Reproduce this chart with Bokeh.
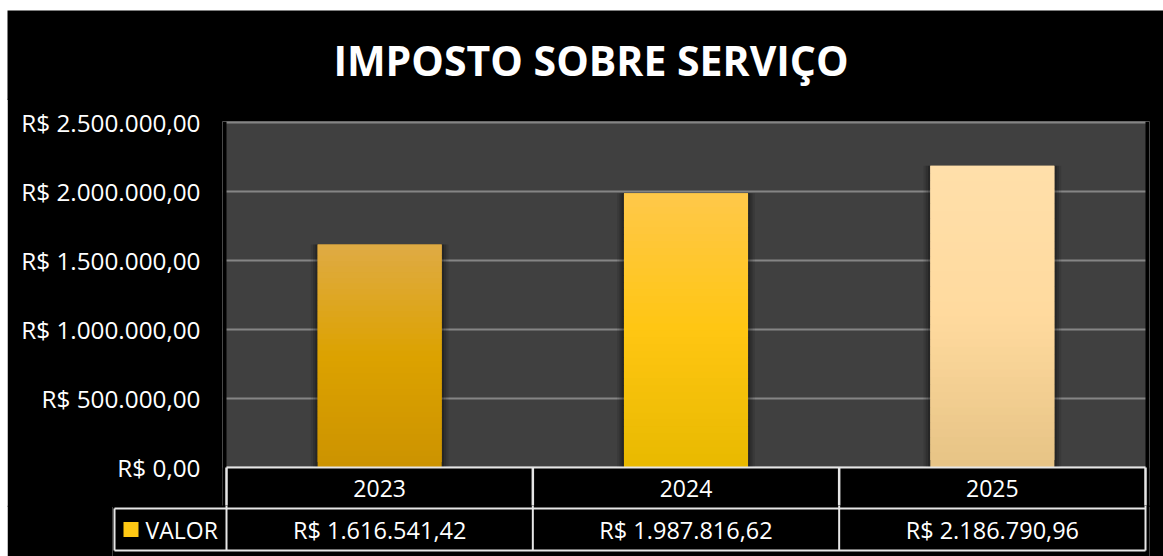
from bokeh.plotting import figure
from bokeh.models import Range1d, FixedTicker, ColumnDataSource
from bokeh.embed import file_html
from bokeh.resources import INLINE
from bokeh.core.properties import value

# ---------------- data ----------------
TITLE = "IMPOSTO SOBRE SERVIÇO"
YEARS = ["2023", "2024", "2025"]
VALUES = [1616541.42, 1987816.62, 2186790.96]
VALUE_LABELS = ["R$ 1.616.541,42", "R$ 1.987.816,62", "R$ 2.186.790,96"]
SERIES = "VALOR"
Y_TICKS = [0, 500000, 1000000, 1500000, 2000000, 2500000]
Y_TICK_LABELS = ["R$ 0,00", "R$ 500.000,00", "R$ 1.000.000,00",
                 "R$ 1.500.000,00", "R$ 2.000.000,00", "R$ 2.500.000,00"]

# ---------------- style ----------------
BAR_STOPS = [("#CC9300", "#DCA200", "#DFAB45"),   # bottom, middle, top
             ("#E8B900", "#FFC612", "#FFC84A"),
             ("#E6C385", "#FFDA9E", "#FFDFAA")]
LEGEND_COLOR = "#FFC914"
FONT = "Open Sans"
BAR_W = 0.405
N_SLICES = 40
LINE_C = "#E6E6E6"
GRID_C = "#858585"

# layout, in reference-picture pixels
OX, OY = 7, 10                 # top-left of the black chart box
RIGHT, BOTTOM = 1163, 556
PLOT_L, PLOT_R, PLOT_T, PLOT_B = 226, 1145, 122, 467
FRAME_L, FRAME_R, FRAME_T = 222, 1149, 121
TITLE_B = 100                  # bottom of the title strip
SPLIT = 507                    # bottom of chart figure / top of value figure
OVERLAP = 2                    # stacked figures overlap a little (no seams)
ROW1_B, TABLE_B = 508, 550
LEG_L, LEG_FRAME_L = 114, 112
KEY_CX, KEY_SIZE, KEY_TEXT_X = 130.5, 15, 145
TITLE_CX, TITLE_CY = 590.5, 59

W = RIGHT - OX
n = len(YEARS)
ux = n / (PLOT_R - PLOT_L)
uy = Y_TICKS[-1] / (PLOT_B - PLOT_T)


def dx(px):
    return -0.5 + (px - PLOT_L) * ux


def dy(py):
    return (PLOT_B - py) * uy


def hex2rgb(h):
    h = h.lstrip("#")
    return tuple(int(h[i:i + 2], 16) for i in (0, 2, 4))


def mix(c1, c2, t):
    a, b = hex2rgb(c1), hex2rgb(c2)
    return "#%02x%02x%02x" % tuple(int(round(a[k] + (b[k] - a[k]) * t)) for k in range(3))


def base_fig(top_px, bottom_px, x_range, y_range, left, right, frame_top=None,
             y_axis=None, first=False):
    start = top_px if first else top_px - OVERLAP
    f = figure(width=W, height=bottom_px - start, x_range=x_range, y_range=y_range,
               x_axis_location=None, y_axis_location=y_axis,
               output_backend="svg", toolbar_location=None,
               min_border_left=left, min_border_right=right,
               min_border_top=(frame_top - start) if frame_top else 0,
               min_border_bottom=0,
               margin=(top_px if first else -OVERLAP, 0, 0, OX))
    f.background_fill_color = "black"
    f.border_fill_color = "black"
    f.outline_line_color = None
    f.xgrid.visible = False
    f.ygrid.visible = False
    return f


xs = list(range(n))
edges = [i - 0.5 for i in range(n + 1)]

# ---------- title strip ----------
t = base_fig(OY, TITLE_B, Range1d(OX, RIGHT), Range1d(TITLE_B, OY), 0, 0, first=True)
t.text(x=[TITLE_CX], y=[TITLE_CY], text=[TITLE], text_align="center",
       text_baseline="middle", text_color="white", text_font=value(FONT),
       text_font_size="41px", text_font_style="bold")

# ---------- chart ----------
p = base_fig(TITLE_B, SPLIT, Range1d(dx(FRAME_L), dx(FRAME_R)),
             Range1d(dy(SPLIT), dy(FRAME_T)), FRAME_L - OX, RIGHT - FRAME_R,
             frame_top=FRAME_T, y_axis="left")
p.background_fill_color = "#404040"
p.ygrid.visible = True
p.ygrid.grid_line_color = GRID_C
p.ygrid.grid_line_width = 2

ax = p.yaxis[0]
ax.ticker = FixedTicker(ticks=Y_TICKS)
ax.major_label_overrides = {tk: lab for tk, lab in zip(Y_TICKS, Y_TICK_LABELS)}
ax.axis_line_color = None
ax.major_tick_line_color = None
ax.minor_tick_line_color = None
ax.major_tick_out = 0
ax.major_tick_in = 0
ax.major_label_standoff = FRAME_L - 200
ax.major_label_text_font = FONT
ax.major_label_text_font_size = "24.3px"
ax.major_label_text_color = "white"

# black margins around the plot area and under the zero line
p.quad(left=[dx(FRAME_L), edges[-1], dx(FRAME_L)],
       right=[edges[0], dx(FRAME_R), dx(FRAME_R)],
       bottom=[dy(SPLIT), dy(SPLIT), dy(SPLIT)],
       top=[dy(FRAME_T), dy(FRAME_T), 0],
       fill_color="black", line_color=None)

# soft shadows beside the bars
for extra, alpha in [(0.045, 0.10), (0.03, 0.14), (0.015, 0.2)]:
    p.vbar(x=xs, top=VALUES, bottom=0, width=BAR_W + extra,
           fill_color="black", fill_alpha=alpha, line_color=None)

# bars with vertical gradient (overlapping slices, drawn bottom to top)
sx, sb, st, sc = [], [], [], []
for i, v in enumerate(VALUES):
    bot, mid, top = BAR_STOPS[i]
    for k in range(N_SLICES):
        f = (k + 0.5) / N_SLICES
        col = mix(bot, mid, f / 0.5) if f < 0.5 else mix(mid, top, (f - 0.5) / 0.5)
        sx.append(xs[i])
        sb.append(v * k / N_SLICES)
        st.append(min(v, v * (k + 2) / N_SLICES))
        sc.append(col)
src = ColumnDataSource(dict(x=sx, bottom=sb, top=st, color=sc))
p.vbar(x="x", bottom="bottom", top="top", width=BAR_W, source=src,
       fill_color="color", line_color=None)

# table: year row
p.segment(x0=[edges[0]], x1=[edges[-1]], y0=[0], y1=[0],
          line_color=LINE_C, line_width=2)
p.segment(x0=edges, x1=edges, y0=[0] * len(edges), y1=[dy(SPLIT)] * len(edges),
          line_color=LINE_C, line_width=2.5)
p.text(x=xs, y=[dy((PLOT_B + ROW1_B) / 2)] * n, text=YEARS,
       text_align="center", text_baseline="middle", text_color="white",
       text_font=value(FONT), text_font_size="23px")

# ---------- value row with legend key ----------
q = base_fig(SPLIT, BOTTOM, Range1d(dx(LEG_FRAME_L), dx(FRAME_R)),
             Range1d(dy(BOTTOM), dy(SPLIT - OVERLAP)), LEG_FRAME_L - OX, RIGHT - FRAME_R)
q.segment(x0=[dx(LEG_L)] * 2, x1=[edges[-1]] * 2, y0=[dy(ROW1_B), dy(TABLE_B)],
          y1=[dy(ROW1_B), dy(TABLE_B)], line_color=LINE_C, line_width=2)
vx = [dx(LEG_L)] + edges
q.segment(x0=vx, x1=vx, y0=[dy(ROW1_B)] + [dy(SPLIT - OVERLAP)] * len(edges),
          y1=[dy(TABLE_B)] * len(vx), line_color=LINE_C, line_width=2)
row2_y = dy((ROW1_B + TABLE_B) / 2)
q.text(x=xs, y=[row2_y] * n, text=VALUE_LABELS,
       text_align="center", text_baseline="middle", text_color="white",
       text_font=value(FONT), text_font_size="23.5px")
# legend key: coloured square + series name
q.scatter(x=[dx(KEY_CX)], y=[row2_y], marker="square", size=KEY_SIZE,
          fill_color=LEGEND_COLOR, line_color=None)
q.text(x=[dx(KEY_TEXT_X)], y=[row2_y], text=[SERIES], text_align="left",
       text_baseline="middle", text_color="white", text_font=value(FONT),
       text_font_size="23px")

open("out.html", "w").write(file_html([t, p, q], INLINE))
